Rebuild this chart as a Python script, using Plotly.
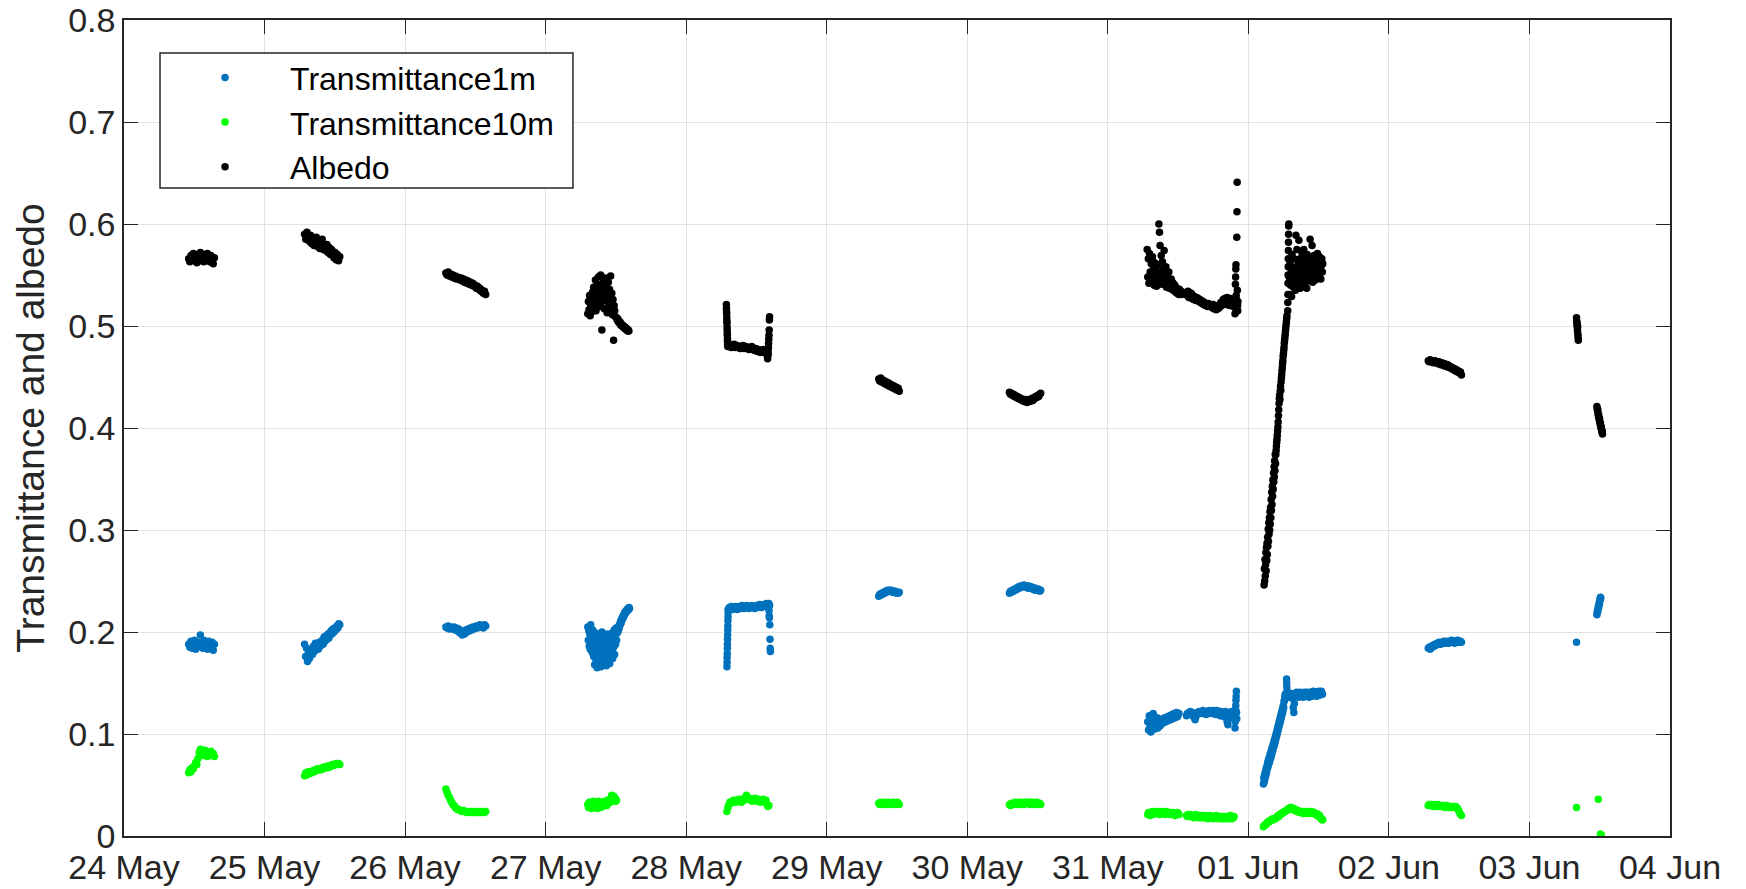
import numpy as np
import pandas as pd
import plotly.graph_objects as go

# Time axis: fractional days after 24 May 00:00, sampled at a fixed interval (minutes) per deployment window
BASE_DATE = pd.Timestamp("2017-05-24")
X_START = "2017-05-24"
X_END = "2017-06-04"

# ---------------- Albedo ----------------
alb_24may = [0.566, 0.563, 0.569, 0.565, 0.571, 0.564, 0.568, 0.562, 0.570, 0.566, 0.572, 0.564,
             0.567, 0.563, 0.570, 0.565, 0.571, 0.566, 0.563, 0.569, 0.565, 0.561, 0.567]
alb_25may = [0.590, 0.585, 0.592, 0.587, 0.583, 0.589, 0.581, 0.586, 0.579, 0.584, 0.587, 0.578,
             0.582, 0.576, 0.581, 0.585, 0.575, 0.579, 0.574, 0.580, 0.572, 0.577, 0.570, 0.575,
             0.573, 0.567, 0.572, 0.565, 0.570, 0.564, 0.568]
alb_26may = [0.552, 0.550, 0.553, 0.549, 0.551, 0.548, 0.550, 0.547, 0.549, 0.546, 0.548, 0.547,
             0.545, 0.547, 0.544, 0.546, 0.543, 0.545, 0.542, 0.544, 0.541, 0.543, 0.540, 0.542,
             0.539, 0.540, 0.537, 0.539, 0.536, 0.537, 0.534, 0.535, 0.532, 0.534, 0.531]
alb_27may_a = [0.512, 0.524, 0.516, 0.530, 0.510, 0.520, 0.527, 0.514,
               0.533, 0.518, 0.538, 0.522, 0.529, 0.545, 0.515, 0.535,
               0.541, 0.526, 0.548, 0.519, 0.536, 0.531, 0.550, 0.523,
               0.496, 0.539, 0.528, 0.544, 0.517, 0.534, 0.547, 0.525,
               0.538, 0.513, 0.531, 0.543, 0.521, 0.536, 0.527, 0.549,
               0.518, 0.532, 0.511, 0.526, 0.486, 0.520, 0.515, 0.509]
alb_27may_b = [0.508, 0.506, 0.507, 0.504, 0.505, 0.503, 0.504, 0.501, 0.502, 0.500, 0.501,
               0.499, 0.500, 0.498, 0.499, 0.497, 0.498, 0.496, 0.497, 0.495, 0.496, 0.495]
alb_28may_a = [0.521, 0.517, 0.514, 0.512, 0.508, 0.505, 0.503, 0.499, 0.496, 0.493, 0.491,
               0.487, 0.485, 0.482, 0.480]
alb_28may_b = [0.482, 0.480, 0.481, 0.479, 0.481, 0.480, 0.482, 0.479, 0.480, 0.481, 0.479,
               0.480, 0.478, 0.480, 0.479, 0.481, 0.478, 0.479, 0.480, 0.478, 0.479, 0.477,
               0.479, 0.478, 0.480, 0.477, 0.478, 0.476, 0.478, 0.477, 0.475, 0.477, 0.476,
               0.474, 0.476, 0.475, 0.477, 0.474, 0.476, 0.475]
alb_28may_c = [0.470, 0.468, 0.473, 0.476, 0.472, 0.479, 0.483, 0.487, 0.491, 0.496, 0.506, 0.509]
alb_29may = [0.448, 0.446, 0.449, 0.445, 0.447, 0.444, 0.446, 0.443, 0.445, 0.442, 0.444,
             0.441, 0.443, 0.440, 0.442, 0.439, 0.441, 0.438, 0.440, 0.437, 0.439, 0.436]
alb_30may = [0.435, 0.433, 0.434, 0.432, 0.433, 0.431, 0.432, 0.430, 0.431, 0.429, 0.430,
             0.428, 0.429, 0.427, 0.428, 0.426, 0.428, 0.427, 0.425, 0.427, 0.428, 0.426,
             0.428, 0.429, 0.427, 0.430, 0.429, 0.431, 0.430, 0.432, 0.431, 0.433, 0.434]
alb_31may_a = [0.575, 0.548, 0.566, 0.542, 0.571, 0.553, 0.545, 0.561, 0.550, 0.568,
               0.546, 0.558, 0.540, 0.562, 0.549, 0.555, 0.539, 0.552, 0.560, 0.544,
               0.600, 0.592, 0.579, 0.548, 0.569, 0.541, 0.563, 0.556, 0.551, 0.574,
               0.552, 0.544, 0.558, 0.538, 0.549, 0.546, 0.541, 0.553, 0.537, 0.545,
               0.540, 0.546, 0.536, 0.543, 0.538, 0.535, 0.541, 0.534, 0.539, 0.533,
               0.537, 0.532, 0.535, 0.534, 0.531, 0.536, 0.533, 0.532, 0.534, 0.531]
alb_31may_b = [0.533, 0.530, 0.534, 0.528, 0.531, 0.529, 0.532, 0.527, 0.530, 0.526, 0.529,
               0.527, 0.525, 0.528, 0.526,
               0.527, 0.524, 0.526, 0.523, 0.525, 0.522, 0.524, 0.521, 0.523, 0.520, 0.522,
               0.521, 0.519, 0.522, 0.520, 0.521, 0.519, 0.520,
               0.518, 0.521, 0.517, 0.520, 0.518, 0.516, 0.519, 0.517, 0.520, 0.518, 0.521,
               0.523, 0.520,
               0.524, 0.526, 0.522, 0.527, 0.525, 0.521, 0.528, 0.523, 0.526, 0.520, 0.524,
               0.527, 0.522, 0.525, 0.519, 0.523]
alb_31may_c = [0.512, 0.518, 0.541, 0.548, 0.556, 0.560, 0.530, 0.526, 0.522, 0.587, 0.612,
               0.641, 0.535, 0.520, 0.515, 0.524]
alb_01jun_a = [0.246, 0.262, 0.250, 0.271, 0.255, 0.266, 0.278, 0.260, 0.283, 0.270, 0.287,
               0.276, 0.293, 0.284, 0.301, 0.289, 0.307, 0.296, 0.312, 0.300, 0.318, 0.306, 0.322,
               0.312, 0.330, 0.319, 0.337, 0.325, 0.343, 0.333, 0.349,
               0.340, 0.356, 0.347, 0.362, 0.352, 0.368, 0.358, 0.374, 0.365,
               0.374, 0.378, 0.382, 0.386, 0.389, 0.393, 0.397, 0.401,
               0.406, 0.412, 0.418, 0.424, 0.429,
               0.432, 0.428, 0.436, 0.441, 0.437, 0.445, 0.449,
               0.452, 0.456, 0.459, 0.463, 0.466, 0.470, 0.473,
               0.476, 0.479, 0.483, 0.486, 0.489, 0.492, 0.495, 0.498, 0.501, 0.504, 0.507, 0.510]
alb_01jun_b = [0.515, 0.523, 0.531, 0.542, 0.550, 0.558, 0.566, 0.574, 0.582, 0.590, 0.598, 0.600]
alb_01jun_c = [0.548, 0.531, 0.562, 0.540, 0.556, 0.529, 0.570, 0.545, 0.553, 0.538, 0.566, 0.542, 0.557, 0.535,
               0.589, 0.548, 0.575, 0.539, 0.560, 0.552, 0.584, 0.543, 0.566, 0.537, 0.558, 0.549, 0.572, 0.541,
               0.563, 0.545, 0.575, 0.540, 0.555, 0.568, 0.547, 0.560, 0.537, 0.570, 0.552, 0.544, 0.562, 0.549,
               0.557, 0.585, 0.546, 0.566, 0.551, 0.579, 0.543, 0.560, 0.554, 0.569, 0.548, 0.562, 0.545, 0.558,
               0.565, 0.550, 0.571, 0.547, 0.560, 0.555, 0.568, 0.552, 0.563, 0.546, 0.559, 0.566, 0.553, 0.561]
alb_02jun = [0.466, 0.465, 0.467, 0.465, 0.466, 0.464, 0.465, 0.466, 0.464, 0.465, 0.463, 0.465,
             0.464, 0.462, 0.464, 0.463, 0.461, 0.463, 0.462, 0.460, 0.462, 0.461, 0.459, 0.460,
             0.458, 0.459, 0.457, 0.458, 0.456, 0.457, 0.455, 0.456, 0.454, 0.455, 0.452]
alb_03jun_a = [0.508, 0.505, 0.501, 0.503, 0.498, 0.495, 0.499, 0.492, 0.489, 0.486]
alb_03jun_b = [0.421, 0.419, 0.417, 0.418, 0.414, 0.412, 0.413, 0.410, 0.408, 0.409, 0.406,
               0.404, 0.405, 0.402, 0.400, 0.401, 0.398, 0.396, 0.397, 0.394]

# ---------------- Transmittance at 1 m ----------------
t1_24may = [0.188, 0.185, 0.191, 0.184, 0.189, 0.192, 0.183, 0.187, 0.190, 0.186, 0.197, 0.188,
            0.184, 0.192, 0.186, 0.189, 0.183, 0.191, 0.187, 0.185, 0.190, 0.182, 0.188]
t1_25may = [0.188, 0.176, 0.184, 0.171, 0.181, 0.174, 0.179,
            0.183, 0.178, 0.186, 0.181, 0.189, 0.184, 0.187, 0.183, 0.190, 0.186,
            0.189, 0.192, 0.188, 0.195, 0.191, 0.196, 0.193, 0.198, 0.194, 0.199,
            0.201, 0.198, 0.203, 0.200, 0.204, 0.202, 0.206, 0.204, 0.208, 0.207]
t1_26may = [0.205, 0.204, 0.206, 0.203, 0.205, 0.204, 0.203, 0.205, 0.202, 0.204, 0.201, 0.203,
            0.199, 0.201, 0.197, 0.200, 0.198, 0.202, 0.200, 0.203, 0.201, 0.204, 0.202, 0.205,
            0.203, 0.204, 0.206, 0.204, 0.205, 0.207, 0.205, 0.206, 0.204, 0.207, 0.206]
t1_27may_a = [0.205, 0.192, 0.201, 0.186, 0.198, 0.183, 0.207, 0.189, 0.195, 0.180, 0.202, 0.187,
              0.176, 0.194, 0.168, 0.185, 0.199, 0.172, 0.190, 0.165, 0.182, 0.197, 0.174, 0.188,
              0.170, 0.192, 0.178, 0.166, 0.186, 0.200, 0.173, 0.183, 0.168, 0.195, 0.179, 0.189,
              0.175, 0.194, 0.167, 0.184, 0.198, 0.171, 0.188, 0.180, 0.196, 0.169, 0.186, 0.177,
              0.191, 0.182, 0.199, 0.174, 0.193, 0.185, 0.202, 0.178, 0.196, 0.188, 0.204, 0.192]
t1_27may_b = [0.199, 0.203, 0.201, 0.206, 0.204, 0.208, 0.207, 0.211, 0.209, 0.213, 0.212, 0.215,
              0.214, 0.217, 0.216, 0.219, 0.218, 0.220, 0.219, 0.221, 0.222, 0.221, 0.223, 0.222,
              0.224, 0.223]
t1_28may_a = [0.166, 0.170, 0.175, 0.179, 0.184, 0.188, 0.193, 0.197, 0.202, 0.206, 0.211, 0.215,
              0.219, 0.222]
t1_28may_b = [0.222, 0.224, 0.223, 0.225, 0.222, 0.224, 0.223, 0.225, 0.224, 0.222, 0.224, 0.225,
              0.223, 0.224, 0.226, 0.224, 0.223, 0.225, 0.224, 0.226, 0.225, 0.223, 0.225, 0.224,
              0.226, 0.224, 0.225, 0.223, 0.225, 0.226, 0.224, 0.225, 0.227, 0.225, 0.224, 0.226,
              0.225, 0.227, 0.226, 0.228, 0.226, 0.225]
t1_28may_c = [0.228, 0.221, 0.216, 0.214, 0.226, 0.207, 0.193, 0.184, 0.181]
t1_29may = [0.235, 0.237, 0.236, 0.238, 0.237, 0.239, 0.238, 0.240, 0.239, 0.241, 0.240,
            0.241, 0.240, 0.241, 0.239, 0.240, 0.239, 0.240, 0.238, 0.239, 0.238, 0.239]
t1_30may = [0.238, 0.240, 0.239, 0.241, 0.240, 0.242, 0.241, 0.243, 0.242, 0.244, 0.243,
            0.245, 0.244, 0.245, 0.244, 0.246, 0.245, 0.244, 0.245, 0.243, 0.245, 0.244,
            0.243, 0.244, 0.242, 0.243, 0.241, 0.243, 0.242, 0.241, 0.242, 0.240, 0.241]
t1_31may_a = [0.112, 0.104, 0.118, 0.108, 0.102, 0.115, 0.107, 0.120, 0.110, 0.105, 0.113,
              0.109, 0.116, 0.106, 0.111, 0.114, 0.108, 0.112, 0.110, 0.115, 0.111, 0.113,
              0.116, 0.112, 0.114, 0.117, 0.113, 0.115, 0.118, 0.114, 0.116, 0.119, 0.115,
              0.117, 0.120, 0.116, 0.118, 0.121, 0.117, 0.119, 0.120]
t1_31may_b = [0.118, 0.120, 0.119, 0.121, 0.120, 0.122, 0.119, 0.121, 0.118, 0.120, 0.116,
              0.114, 0.117, 0.119, 0.121, 0.120, 0.122, 0.121, 0.120, 0.122, 0.121, 0.123,
              0.120, 0.122, 0.121, 0.119, 0.121, 0.122, 0.120, 0.123, 0.121, 0.122, 0.120,
              0.121, 0.123, 0.122, 0.120, 0.119, 0.121, 0.123, 0.122, 0.120, 0.121, 0.118,
              0.122, 0.120, 0.119, 0.121, 0.117, 0.120, 0.122, 0.118, 0.112, 0.109, 0.115,
              0.119, 0.121, 0.117, 0.122, 0.120, 0.116, 0.119]
t1_31may_c = [0.106, 0.112, 0.118, 0.124, 0.128, 0.133, 0.137, 0.142, 0.121, 0.115]
t1_01jun_a = [0.051, 0.057, 0.053, 0.060, 0.056, 0.063, 0.059, 0.066, 0.062, 0.069, 0.066,
              0.072, 0.068, 0.075, 0.071, 0.077, 0.073, 0.080, 0.076, 0.082, 0.078, 0.085,
              0.081, 0.087, 0.084, 0.090, 0.087, 0.093, 0.089, 0.095, 0.092, 0.098, 0.095,
              0.101, 0.098, 0.104, 0.101, 0.107, 0.104, 0.110, 0.107, 0.113, 0.110, 0.116,
              0.113, 0.119, 0.116, 0.122, 0.119, 0.125, 0.122, 0.128, 0.126, 0.132, 0.133,
              0.137, 0.139]
t1_01jun_b = [0.154, 0.150, 0.146, 0.142, 0.139, 0.136]
t1_01jun_c = [0.138, 0.136, 0.140, 0.137, 0.139, 0.135, 0.138, 0.126, 0.121, 0.130, 0.137,
              0.140, 0.138, 0.141, 0.137, 0.139, 0.136, 0.140, 0.138, 0.141, 0.139, 0.137,
              0.140, 0.138, 0.136, 0.139, 0.141, 0.138, 0.140, 0.137, 0.139, 0.141, 0.138,
              0.140, 0.136, 0.139, 0.141, 0.138, 0.140, 0.137, 0.139, 0.142, 0.138, 0.140,
              0.141, 0.138, 0.140, 0.137, 0.141, 0.139, 0.142, 0.140, 0.138, 0.141, 0.139,
              0.142, 0.140, 0.139]
t1_02jun = [0.184, 0.185, 0.183, 0.186, 0.185, 0.187, 0.186, 0.188, 0.187, 0.189, 0.188, 0.190,
            0.189, 0.188, 0.190, 0.189, 0.191, 0.190, 0.189, 0.191, 0.190, 0.189, 0.191, 0.190,
            0.192, 0.190, 0.191, 0.189, 0.191, 0.190, 0.192, 0.191, 0.190, 0.191, 0.190]
t1_03jun_a = [0.190]
t1_03jun_b = [0.217, 0.219, 0.221, 0.220, 0.223, 0.225, 0.224, 0.227, 0.229, 0.228, 0.231,
              0.232, 0.234, 0.233]

# ---------------- Transmittance at 10 m ----------------
t10_24may = [0.062, 0.065, 0.063, 0.067, 0.066, 0.069, 0.072, 0.070, 0.076, 0.082, 0.085, 0.080,
             0.083, 0.079, 0.084, 0.081, 0.078, 0.082, 0.080, 0.083, 0.079, 0.081, 0.078]
t10_25may = [0.059, 0.062, 0.060, 0.063, 0.061, 0.063, 0.062, 0.064, 0.063, 0.065, 0.064, 0.066,
             0.065, 0.066, 0.065, 0.067, 0.066, 0.068, 0.067, 0.068, 0.067, 0.069, 0.068, 0.069,
             0.070, 0.069, 0.070, 0.071, 0.070, 0.071, 0.070]
t10_26may = [0.046, 0.043, 0.040, 0.038, 0.035, 0.033, 0.031, 0.030, 0.028, 0.027, 0.026, 0.026,
             0.025, 0.025, 0.024, 0.025, 0.024, 0.024, 0.023, 0.024, 0.023, 0.024, 0.023, 0.024,
             0.023, 0.023, 0.024, 0.023, 0.024, 0.023, 0.024, 0.023, 0.024, 0.023, 0.024]
t10_27may = [0.031, 0.028, 0.033, 0.029, 0.032, 0.027, 0.031, 0.030, 0.034, 0.028, 0.032, 0.029,
             0.033, 0.030, 0.027, 0.031, 0.034, 0.029, 0.032, 0.028, 0.031, 0.033, 0.029, 0.032,
             0.030, 0.034, 0.031, 0.033, 0.030, 0.035, 0.032, 0.034, 0.036, 0.033, 0.037, 0.040,
             0.038, 0.036, 0.039, 0.035, 0.037, 0.034, 0.035]
t10_28may = [0.024, 0.028, 0.031, 0.033, 0.032, 0.034, 0.033, 0.035, 0.034, 0.033, 0.035, 0.034,
             0.036, 0.034, 0.035, 0.033, 0.036, 0.035, 0.037, 0.036, 0.040, 0.038, 0.036, 0.037,
             0.035, 0.036, 0.034, 0.036, 0.035, 0.037, 0.035, 0.034, 0.036, 0.035, 0.033, 0.035,
             0.034, 0.036, 0.034, 0.033, 0.035, 0.031, 0.029, 0.030]
t10_29may = [0.032, 0.031, 0.033, 0.032, 0.031, 0.032, 0.033, 0.032, 0.031, 0.032, 0.033,
             0.032, 0.031, 0.032, 0.032, 0.033, 0.032, 0.031, 0.032, 0.033, 0.032, 0.031]
t10_30may = [0.031, 0.030, 0.032, 0.031, 0.032, 0.031, 0.033, 0.032, 0.031, 0.032, 0.033,
             0.032, 0.031, 0.033, 0.032, 0.031, 0.032, 0.033, 0.032, 0.033, 0.032, 0.031,
             0.033, 0.032, 0.033, 0.032, 0.031, 0.032, 0.033, 0.032, 0.031, 0.032, 0.031]
t10_31may_a = [0.021, 0.023, 0.022, 0.020, 0.023, 0.022, 0.024, 0.021, 0.023, 0.022, 0.024,
               0.023, 0.022, 0.024, 0.023, 0.021, 0.023, 0.022, 0.024, 0.023, 0.022, 0.023,
               0.021, 0.022, 0.024, 0.023, 0.022, 0.023, 0.021, 0.022, 0.023, 0.022, 0.021,
               0.023, 0.022, 0.020, 0.022, 0.021, 0.023, 0.022, 0.021]
t10_31may_b = [0.020, 0.019, 0.021, 0.020, 0.019, 0.021, 0.020, 0.019, 0.020, 0.018, 0.020,
               0.019, 0.021, 0.019, 0.020, 0.018, 0.019, 0.020, 0.019, 0.018, 0.020, 0.019,
               0.018, 0.019, 0.020, 0.018, 0.019, 0.017, 0.019, 0.018, 0.020, 0.019, 0.018,
               0.019, 0.017, 0.018, 0.019, 0.018, 0.020, 0.018, 0.019, 0.017, 0.018, 0.019,
               0.018, 0.017, 0.019, 0.018, 0.017, 0.018, 0.019, 0.017, 0.018, 0.019, 0.017,
               0.018, 0.020, 0.018, 0.017, 0.019, 0.018, 0.019]
t10_01jun = [0.009, 0.010, 0.011, 0.011, 0.012, 0.013, 0.014,
             0.014, 0.015, 0.015, 0.016, 0.016, 0.017, 0.016, 0.017, 0.017,
             0.018, 0.018, 0.019, 0.020, 0.019, 0.021, 0.021, 0.022,
             0.022, 0.023, 0.023, 0.024, 0.024, 0.025, 0.025, 0.026,
             0.026, 0.027, 0.028, 0.027, 0.028,
             0.027, 0.026, 0.027, 0.025, 0.026, 0.025, 0.024, 0.025,
             0.024, 0.023, 0.024, 0.023, 0.024, 0.023, 0.022, 0.024, 0.023, 0.024, 0.023,
             0.022, 0.023, 0.024, 0.023, 0.022, 0.023, 0.024, 0.023, 0.022, 0.023,
             0.022, 0.021, 0.022, 0.020, 0.021, 0.019, 0.020, 0.018, 0.017, 0.016, 0.016]
t10_02jun = [0.030, 0.031, 0.030, 0.031, 0.030, 0.029, 0.031, 0.030, 0.029, 0.030, 0.031, 0.029,
             0.030, 0.029, 0.030, 0.029, 0.030, 0.028, 0.029, 0.030, 0.029, 0.028, 0.029, 0.028,
             0.029, 0.028, 0.029, 0.028, 0.029, 0.028, 0.027, 0.025, 0.023, 0.021, 0.020]
t10_03jun_a = [0.028]
t10_03jun_b = [0.036]
t10_03jun_c = [0.002, 0.001, 0.000, 0.001]

# Deployment windows: (start day after 24 May, sampling interval in minutes, values)
albedo_runs = [
    (0.460, 12, alb_24may), (1.285, 12, alb_25may), (2.290, 12, alb_26may),
    (3.300, 6, alb_27may_a), (3.505, 6, alb_27may_b),
    (4.286, 1, alb_28may_a), (4.300, 10, alb_28may_b), (4.578, 2, alb_28may_c),
    (5.370, 10, alb_29may), (6.300, 10, alb_30may),
    (7.280, 6, alb_31may_a), (7.560, 8, alb_31may_b), (7.905, 2, alb_31may_c),
    (8.112, 3, alb_01jun_a), (8.280, 1, alb_01jun_b), (8.290, 5, alb_01jun_c),
    (9.280, 10, alb_02jun), (10.335, 2, alb_03jun_a), (10.480, 3, alb_03jun_b),
]
t1m_runs = [
    (0.460, 12, t1_24may), (1.285, 10, t1_25may), (2.290, 12, t1_26may),
    (3.300, 5, t1_27may_a), (3.510, 5, t1_27may_b),
    (4.290, 1, t1_28may_a), (4.300, 10, t1_28may_b), (4.588, 2, t1_28may_c),
    (5.370, 10, t1_29may), (6.300, 10, t1_30may),
    (7.284, 8, t1_31may_a), (7.560, 8, t1_31may_b), (7.905, 2, t1_31may_c),
    (8.107, 4, t1_01jun_a), (8.272, 1, t1_01jun_b), (8.290, 6, t1_01jun_c),
    (9.280, 10, t1_02jun), (10.335, 2, t1_03jun_a), (10.480, 3, t1_03jun_b),
]
t10m_runs = [
    (0.460, 12, t10_24may), (1.285, 12, t10_25may), (2.290, 12, t10_26may),
    (3.300, 7, t10_27may), (4.290, 10, t10_28may),
    (5.370, 10, t10_29may), (6.300, 10, t10_30may),
    (7.284, 8, t10_31may_a), (7.560, 8, t10_31may_b),
    (8.107, 8, t10_01jun), (9.280, 10, t10_02jun),
    (10.335, 2, t10_03jun_a), (10.490, 2, t10_03jun_b), (10.505, 3, t10_03jun_c),
]


def build_series(runs):
    times, values = [], []
    for start_day, step_min, vals in runs:
        offsets = start_day + np.arange(len(vals)) * step_min / 1440.0
        times.extend(BASE_DATE + pd.to_timedelta(offsets, unit="D"))
        values.extend(vals)
    return times, values


FONT = "Liberation Sans, Arial, Helvetica, sans-serif"
AX_COLOR = "#262626"
GRID_COLOR = "#e2e2e2"

series = [
    ("Transmittance1m", t1m_runs, "#0072BD"),
    ("Transmittance10m", t10m_runs, "#00FF00"),
    ("Albedo", albedo_runs, "#000000"),
]

fig = go.Figure()
for name, runs, color in series:
    tx, vy = build_series(runs)
    fig.add_trace(go.Scatter(
        x=tx, y=vy, mode="markers", name=name,
        marker=dict(color=color, size=7.5, line=dict(width=0)),
    ))

axis_common = dict(
    showline=True, linecolor=AX_COLOR, linewidth=1.5, mirror="ticks",
    ticks="inside", ticklen=14, tickwidth=1.3, tickcolor=AX_COLOR,
    showgrid=True, gridcolor=GRID_COLOR, gridwidth=1,
    zeroline=False, automargin=False,
    tickfont=dict(family=FONT, size=34, color=AX_COLOR),
)

# Opaque framed box behind the legend entries
fig.add_shape(
    type="rect", xref="paper", yref="paper",
    x0=0.0233, x1=0.2904, y0=0.7941, y1=0.9596,
    fillcolor="white", line=dict(color=AX_COLOR, width=1.5), layer="above",
)

fig.update_layout(
    width=1746, height=889,
    margin=dict(l=124, r=76, t=20, b=53, autoexpand=False),
    paper_bgcolor="white", plot_bgcolor="white",
    font=dict(family=FONT, color=AX_COLOR),
    xaxis=dict(
        range=[X_START, X_END], type="date",
        tick0=X_START, dtick=86400000, tickformat="%d %b",
        **axis_common,
    ),
    yaxis=dict(
        range=[0, 0.8], dtick=0.1, tick0=0,
        title=dict(text="Transmittance and albedo", font=dict(family=FONT, size=39, color=AX_COLOR), standoff=12),
        **axis_common,
    ),
    legend=dict(
        x=0.0233, y=0.963, xanchor="left", yanchor="top",
        bgcolor="rgba(0,0,0,0)", borderwidth=0,
        font=dict(family=FONT, size=32, color="#000000"),
        itemwidth=120, tracegroupgap=0,
    ),
    showlegend=True,
)

fig.write_html("out.html")
